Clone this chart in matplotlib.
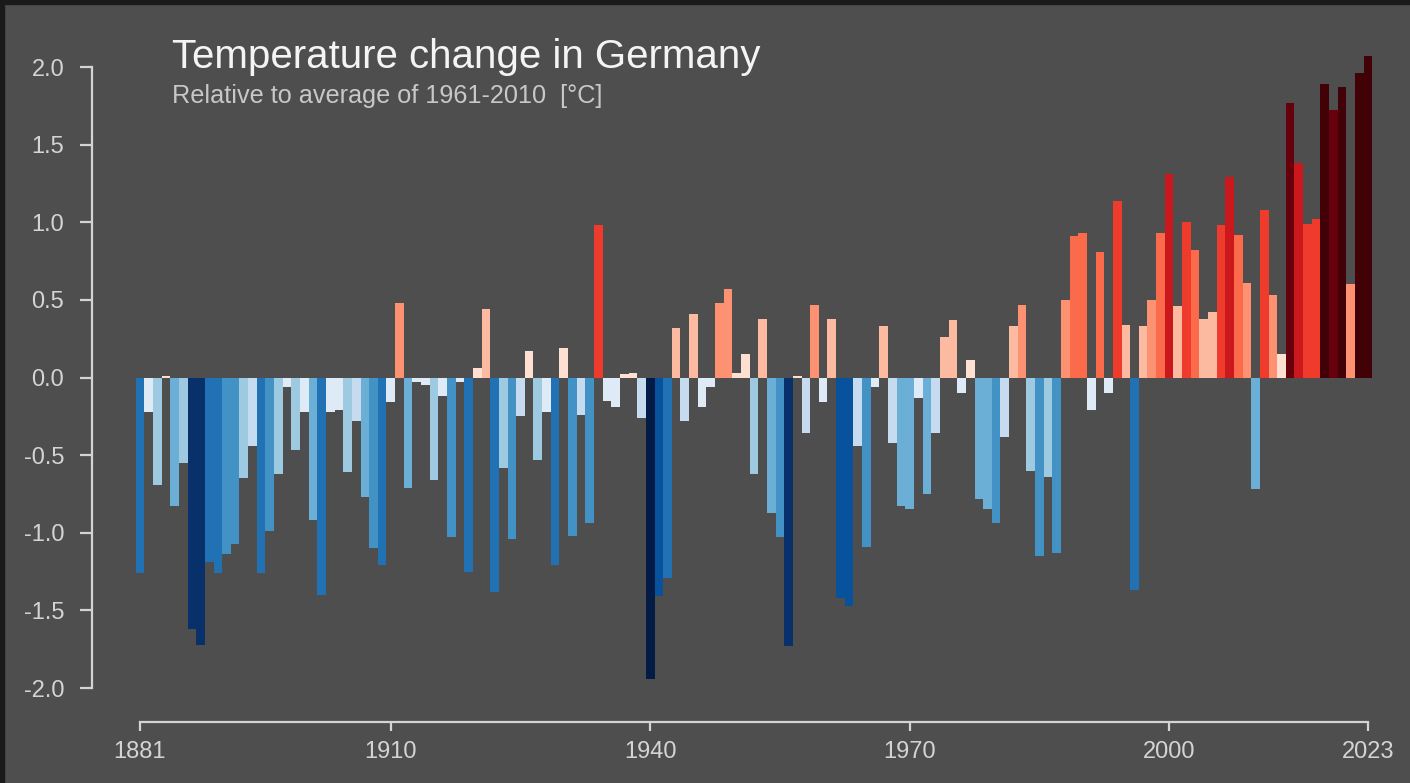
import matplotlib.pyplot as plt
from matplotlib.colors import ListedColormap, BoundaryNorm
from matplotlib.patches import Rectangle
import numpy as np

# Annual temperature anomaly in Germany, relative to 1961-2010 mean [°C]
years = list(range(1881, 2024))
anomaly = [
    -1.26, -0.22, -0.69, 0.01, -0.83, -0.55, -1.62, -1.72, -1.19, -1.26,   # 1881-1890
    -1.14, -1.07, -0.65, -0.44, -1.26, -0.99, -0.62, -0.06, -0.47, -0.22,  # 1891-1900
    -0.92, -1.40, -0.22, -0.21, -0.61, -0.28, -0.77, -1.10, -1.21, -0.16,  # 1901-1910
    0.48, -0.71, -0.03, -0.05, -0.66, -0.12, -1.03, -0.03, -1.25, 0.06,    # 1911-1920
    0.44, -1.38, -0.58, -1.04, -0.25, 0.17, -0.53, -0.22, -1.21, 0.19,     # 1921-1930
    -1.02, -0.24, -0.94, 0.98, -0.15, -0.19, 0.02, 0.03, -0.26, -1.94,     # 1931-1940
    -1.41, -1.29, 0.32, -0.28, 0.41, -0.19, -0.06, 0.48, 0.57, 0.03,       # 1941-1950
    0.15, -0.62, 0.38, -0.87, -1.03, -1.73, 0.01, -0.36, 0.47, -0.16,      # 1951-1960
    0.38, -1.42, -1.47, -0.44, -1.09, -0.06, 0.33, -0.42, -0.83, -0.85,    # 1961-1970
    -0.13, -0.75, -0.36, 0.26, 0.37, -0.10, 0.11, -0.78, -0.85, -0.94,     # 1971-1980
    -0.38, 0.33, 0.47, -0.60, -1.15, -0.64, -1.13, 0.50, 0.91, 0.93,       # 1981-1990
    -0.21, 0.81, -0.10, 1.14, 0.34, -1.37, 0.33, 0.50, 0.93, 1.31,         # 1991-2000
    0.46, 1.00, 0.82, 0.38, 0.42, 0.98, 1.29, 0.92, 0.61, -0.72,           # 2001-2010
    1.08, 0.53, 0.15, 1.77, 1.38, 0.99, 1.02, 1.89, 1.72, 1.87,            # 2011-2020
    0.60, 1.96, 2.07,                                                      # 2021-2023
]
xtick_years = [1881, 1910, 1940, 1970, 2000, 2023]
yticks = [-2.0, -1.5, -1.0, -0.5, 0.0, 0.5, 1.0, 1.5, 2.0]

# warming-stripes style palette (blues -> reds), binned on the anomaly
stripe_colors = ['#021c45', '#08306b', '#08519c', '#2171b5', '#4292c6', '#6baed6',
                 '#9ecae1', '#c6dbef', '#deebf7', '#fee0d2', '#fcbba1', '#fc9272',
                 '#fb6a4a', '#ef3b2c', '#cb181d', '#a50f15', '#67000d', '#420007']
color_bounds = [-2.1, -1.8, -1.6, -1.4, -1.167, -0.933, -0.7, -0.467, -0.233, 0.0,
                0.233, 0.467, 0.7, 0.933, 1.167, 1.4, 1.633, 1.867, 2.2]
cmap = ListedColormap(stripe_colors)
norm = BoundaryNorm(color_bounds, cmap.N)

bg = '#4e4e4e'
fg = '#d4d4d4'
plt.rcParams['font.family'] = ['Liberation Sans', 'DejaVu Sans']
plt.rcParams['axes.unicode_minus'] = False

fig = plt.figure(figsize=(14.1, 7.83), dpi=100, facecolor=bg)
ax = fig.add_axes([0.06525, 0.0779, 0.9312, 0.871], facecolor=bg)

ax.bar(years, anomaly, width=1.0, color=cmap(norm(anomaly)), linewidth=0)

ax.set_xlim(1875.45, 2027.28)
ax.set_ylim(-2.219, 2.174)

# R-style axes: lines only between first and last tick
for side in ['top', 'right']:
    ax.spines[side].set_visible(False)
ax.spines['left'].set_bounds(-2.0, 2.0)
ax.spines['bottom'].set_bounds(1881, 2023)
for side in ['left', 'bottom']:
    ax.spines[side].set_color(fg)
    ax.spines[side].set_linewidth(1.6)

ax.set_yticks(yticks)
ax.set_yticklabels([f'{v:.1f}' for v in yticks])
ax.set_xticks(xtick_years)
ax.set_xticklabels([str(y) for y in xtick_years])
ax.tick_params(axis='y', colors=fg, labelsize=17, length=9, width=1.6, pad=11)
ax.tick_params(axis='x', colors=fg, labelsize=17, length=6.5, width=1.6, pad=7)

fig.text(0.122, 0.913, 'Temperature change in Germany', color='#f4f4f4',
         fontsize=29, va='baseline', ha='left')
fig.text(0.122, 0.868, 'Relative to average of 1961-2010  [°C]', color='#c8c8c8',
         fontsize=18.2, va='baseline', ha='left')

# thin dark frame along top and left edge of the screenshot
fig.patches.append(Rectangle((0, 0.995), 1, 0.005, transform=fig.transFigure,
                             color='#1a1a1a', zorder=0))
fig.patches.append(Rectangle((0, 0), 0.003, 1, transform=fig.transFigure,
                             color='#1a1a1a', zorder=0))

plt.savefig('out.png', dpi=100, facecolor=bg)
